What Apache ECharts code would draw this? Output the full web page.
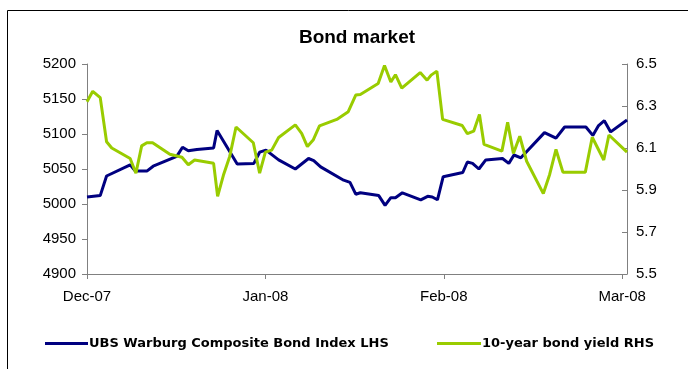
<!DOCTYPE html>
<html>
<head>
<meta charset="utf-8">
<script src="https://cdn.jsdelivr.net/npm/echarts@6/dist/echarts.min.js"></script>
<style>html,body{margin:0;padding:0;background:#fff}#c{width:688px;height:369px}</style>
</head>
<body>
<div id="c"></div>
<script>
// x positions in days since 1 Dec 2007 (axis drawn with equal month spacing of 31 days)
var monthLabels = ['Dec-07', 'Jan-08', 'Feb-08', 'Mar-08'];
var bondDays = [0, 2.3, 3.4, 7.5, 8.4, 10.4, 11.5, 15.6, 16.6, 17.6, 19.1, 22, 22.6, 26.1, 29, 30, 31.1, 33.3, 36.2, 38.5, 39.4, 40.6, 44.6, 45.7, 46.7, 47.5, 50.7, 51.8, 52.8, 53.6, 54.8, 58, 59.2, 60, 60.9, 61.9, 65.3, 66.1, 67, 68.1, 69.3, 72.2, 73.3, 74.2, 75.4, 79.5, 81.5, 83, 86.7, 87.9, 88.9, 89.9, 91, 93.84];
var bondIndex = [5010, 5012, 5040, 5056, 5047, 5047, 5054, 5068, 5081, 5076, 5078, 5080, 5105, 5057, 5058, 5074, 5077, 5063, 5050, 5065, 5062, 5053, 5034, 5031, 5014, 5016, 5012, 4998, 5009, 5009, 5016, 5006, 5011, 5010, 5006, 5039, 5045, 5060, 5058, 5050, 5063, 5065, 5058, 5070, 5066, 5102, 5094, 5110, 5110, 5098, 5112, 5119, 5103, 5120];
var yieldDays = [0, 1, 2.3, 3.4, 4.3, 7.5, 8.5, 9.5, 10.4, 11.4, 14.4, 16.5, 17.6, 18.7, 22, 22.7, 23.7, 24.8, 25.9, 28.9, 30, 31, 32.1, 33.3, 36.2, 37.3, 38.3, 39.3, 40.4, 43.4, 45.4, 46.7, 47.5, 50.6, 51.7, 52.8, 53.6, 54.7, 57.9, 59.1, 59.8, 60.8, 61.8, 65.2, 66.1, 67.2, 68.2, 69, 72.1, 73.1, 74.1, 75.2, 76.4, 79.3, 80.4, 81.5, 82.7, 86.6, 87.8, 89.8, 90.7, 93.84];
var yieldPct = [6.32, 6.37, 6.34, 6.13, 6.10, 6.05, 5.98, 6.11, 6.125, 6.125, 6.07, 6.056, 6.02, 6.043, 6.027, 5.87, 5.97, 6.06, 6.20, 6.125, 5.98, 6.08, 6.09, 6.15, 6.21, 6.17, 6.107, 6.138, 6.205, 6.236, 6.273, 6.352, 6.355, 6.407, 6.493, 6.414, 6.449, 6.385, 6.459, 6.423, 6.447, 6.466, 6.236, 6.207, 6.168, 6.18, 6.26, 6.117, 6.085, 6.223, 6.074, 6.156, 6.037, 5.883, 5.974, 6.093, 5.985, 5.985, 6.151, 6.043, 6.162, 6.08];
var seriesNames = ['UBS Warburg Composite Bond Index LHS', '10-year bond yield RHS'];

function pairs(xs, ys) { return xs.map(function (x, i) { return [x, ys[i]]; }); }

var font = 'Liberation Sans, Arial, sans-serif';
var axisGray = '#808080';
var legendText = { fontFamily: 'DejaVu Sans, sans-serif', fontSize: 13, fontWeight: 'bold', color: '#000', padding: [0, 0, 0, -4] };
var chart = echarts.init(document.getElementById('c'), null, { renderer: 'canvas' });
chart.setOption({
  animation: false,
  backgroundColor: '#fff',
  title: {
    text: 'Bond market', left: 352, top: 23, textAlign: 'center',
    textStyle: { fontFamily: font, fontSize: 19, fontWeight: 'bold', color: '#000' }
  },
  graphic: [{
    type: 'rect', shape: { x: 7.5, y: 10.5, width: 700, height: 400 },
    style: { fill: 'none', stroke: '#000', lineWidth: 1 }, silent: true
  }],
  legend: [{
    data: [seriesNames[0]], left: 40, top: 332, icon: 'rect', itemWidth: 43, itemHeight: 3,
    textStyle: legendText
  }, {
    data: [seriesNames[1]], left: 432, top: 332, icon: 'rect', itemWidth: 44, itemHeight: 3,
    textStyle: legendText
  }],
  grid: { left: 87, right: 61, top: 64, bottom: 95, containLabel: false },
  xAxis: {
    type: 'value', min: 0, max: 93.84, interval: 31,
    axisLine: { lineStyle: { color: axisGray, width: 1 } },
    axisTick: { length: 5, lineStyle: { color: axisGray } },
    splitLine: { show: false },
    axisLabel: {
      margin: 15, fontFamily: font, fontSize: 15, color: '#000', showMaxLabel: false,
      formatter: function (v) { var i = Math.round(v / 31); return (Math.abs(v - i * 31) < 0.01 && monthLabels[i]) ? monthLabels[i] : ''; }
    }
  },
  yAxis: [{
    type: 'value', min: 4900, max: 5200, interval: 50, position: 'left',
    axisLine: { show: true, lineStyle: { color: axisGray, width: 1 } },
    axisTick: { show: true, length: 5, lineStyle: { color: axisGray } },
    splitLine: { show: false },
    axisLabel: { margin: 11, fontFamily: font, fontSize: 15, color: '#000', formatter: function (v) { return String(v); } }
  }, {
    type: 'value', min: 5.5, max: 6.5, interval: 0.2, position: 'right',
    axisLine: { show: true, lineStyle: { color: axisGray, width: 1 } },
    axisTick: { show: true, inside: true, length: 5, lineStyle: { color: axisGray } },
    splitLine: { show: false },
    axisLabel: { margin: 9, fontFamily: font, fontSize: 15, color: '#000', formatter: function (v) { return v.toFixed(1); } }
  }],
  series: [{
    name: seriesNames[0], type: 'line', yAxisIndex: 0, data: pairs(bondDays, bondIndex),
    showSymbol: false, symbol: 'none', lineStyle: { color: '#000080', width: 3 }, itemStyle: { color: '#000080' }
  }, {
    name: seriesNames[1], type: 'line', yAxisIndex: 1, data: pairs(yieldDays, yieldPct),
    showSymbol: false, symbol: 'none', lineStyle: { color: '#99CC00', width: 3 }, itemStyle: { color: '#99CC00' }
  }]
});
</script>
</body>
</html>
